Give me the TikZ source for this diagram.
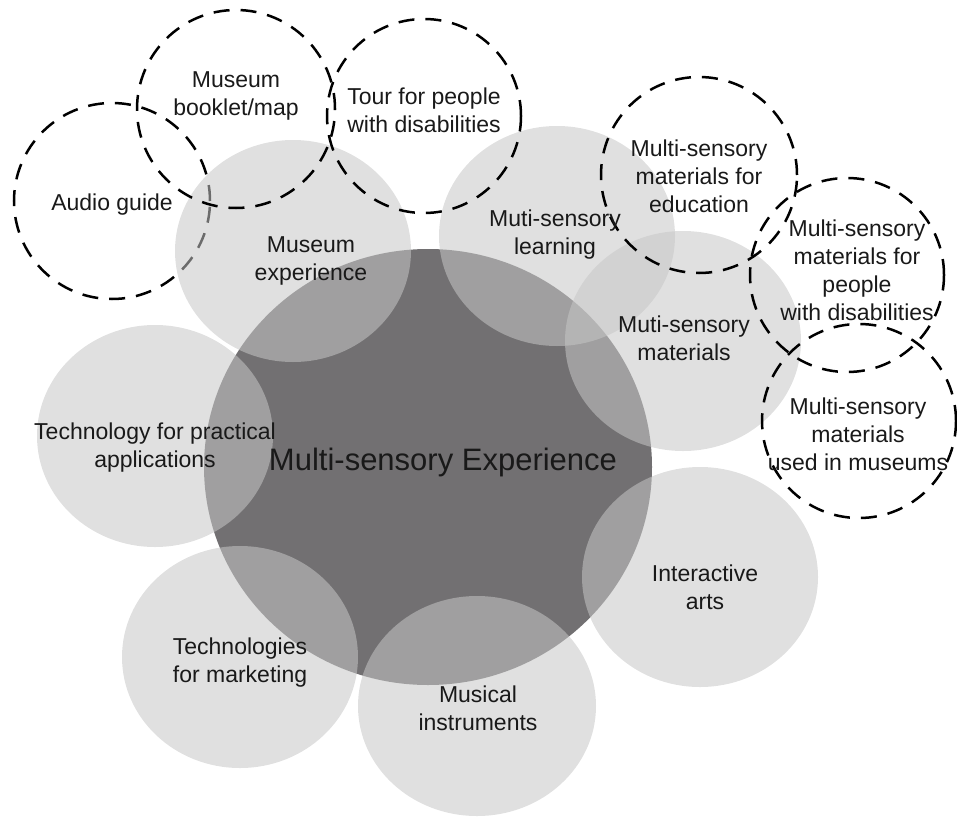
\documentclass[tikz,border=0pt]{standalone}
\usepackage{fontspec}
\setmainfont{Liberation Sans}
\usepackage{tikz}
\definecolor{coregray}{RGB}{114,112,114}
\definecolor{bubblegray}{RGB}{198,198,198}
\newcommand\lbl{\fontsize{23}{28}\selectfont}
\newcommand\biglbl{\fontsize{31}{37}\selectfont}

\begin{document}
\begin{tikzpicture}[x=1pt,y=-1pt,
	bubble/.style={fill=bubblegray,fill opacity=0.55},
	ring/.style={draw=black,line width=2.5pt,dash pattern=on 16pt off 11pt},
	txt/.style={align=center,font=\lbl,text=black!90,inner sep=0pt}]
	\useasboundingbox (0,0) rectangle (957,816);
	% the core - must be drawn before the rest!
	\fill[coregray] (428,467) ellipse (224pt and 218pt);
	% audio guide ring sits under the bubbles
	\draw[ring] (112,201) circle (98pt);
	% the seven bubbles
	\fill[bubble] (293,251) ellipse (118pt and 111pt);
	\fill[bubble] (557,236) ellipse (118pt and 110pt);
	\fill[bubble] (683,341) ellipse (118pt and 110pt);
	\fill[bubble] (155,436) ellipse (118pt and 111pt);
	\fill[bubble] (240,657) ellipse (118pt and 111pt);
	\fill[bubble] (477,706) ellipse (119pt and 110pt);
	\fill[bubble] (700,577) ellipse (118pt and 110pt);
	% the dashed rings
	\draw[ring] (236,109) circle (99pt);
	\draw[ring] (424,116) circle (97pt);
	\draw[ring] (699,175) circle (98pt);
	\draw[ring] (847,275) circle (97pt);
	\draw[ring] (859,421) circle (97pt);
	% labels
	\node[txt] (audio) at (112,205) {Audio guide};
	\node[txt] (booklet) at (236,96) {Museum\\booklet/map};
	\node[txt] (tour) at (424,110) {Tour for people\\with disabilities};
	\node[txt] (museum) at (311,261) {Museum\\experience};
	\node[txt] (learning) at (555,235) {Muti-sensory\\learning};
	\node[txt] (education) at (699,176) {Multi-sensory\\materials for\\education};
	\node[txt] (materials) at (684,338) {Muti-sensory\\materials};
	\node[txt] (disab) at (857,270) {Multi-sensory\\materials for\\people\\with disabilities};
	\node[txt] (inmuseums) at (858,434) {Multi-sensory\\materials\\used in museums};
	\node[txt] (practical) at (155,448) {Technology for practical\\applications};
	\node[txt,font=\biglbl] (core) at (443,462) {Multi-sensory Experience};
	\node[txt] (arts) at (705,587) {Interactive\\arts};
	\node[txt] (marketing) at (240,663) {Technologies\\for marketing};
	\node[txt] (music) at (478,708) {Musical\\instruments};
\end{tikzpicture}
\end{document}
